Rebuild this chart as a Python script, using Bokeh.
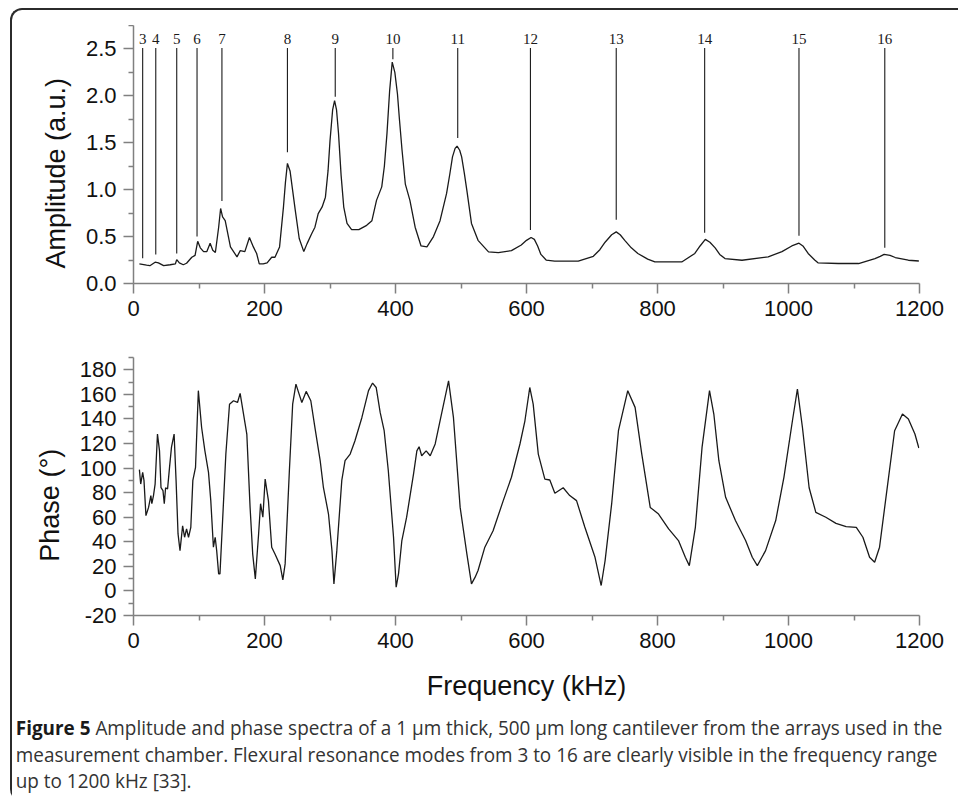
from bokeh.plotting import figure
from bokeh.models import FixedTicker, PrintfTickFormatter, Div, Range1d
from bokeh.layouts import column, row
from bokeh.core.properties import value
from bokeh.embed import file_html
from bokeh.resources import INLINE

# ---------------- data ----------------
amp_freq = [9, 20, 25, 33, 38, 46, 56, 64, 66, 70,
            76, 81, 89, 94, 98, 102, 107, 112, 117, 121,
            125, 130, 133, 136, 140, 148, 158, 163, 170, 177,
            183, 188, 192, 198, 204, 211, 216, 223, 229, 232,
            235, 239, 243, 247, 253, 260, 265, 272, 277, 282,
            288, 293, 297, 300, 304, 307, 310, 313, 317, 321,
            326, 333, 344, 356, 364, 371, 379, 383, 387, 391,
            395, 399, 403, 406, 410, 415, 422, 430, 439, 448,
            458, 468, 478, 483, 487, 491, 494, 498, 501, 505,
            509, 516, 526, 542, 557, 577, 592, 600, 607, 612,
            617, 622, 630, 643, 679, 702, 712, 720, 730, 737,
            743, 750, 760, 770, 785, 796, 837, 857, 865, 873,
            880, 888, 895, 903, 929, 969, 990, 1005, 1016, 1022,
            1030, 1040, 1045, 1076, 1107, 1132, 1140, 1146, 1155, 1163,
            1183, 1199]
amp_val = [0.21, 0.195, 0.19, 0.227, 0.22, 0.19, 0.2, 0.21, 0.255, 0.22,
           0.2, 0.216, 0.28, 0.30, 0.45, 0.38, 0.34, 0.34, 0.43, 0.355,
           0.33, 0.60, 0.80, 0.71, 0.67, 0.39, 0.284, 0.35, 0.34, 0.49,
           0.39, 0.32, 0.21, 0.21, 0.22, 0.28, 0.28, 0.39, 0.82, 1.08,
           1.28, 1.2, 0.99, 0.78, 0.48, 0.34, 0.425, 0.53, 0.60, 0.745,
           0.816, 0.92, 1.2, 1.52, 1.85, 1.95, 1.85, 1.6, 1.15, 0.815,
           0.64, 0.574, 0.574, 0.62, 0.67, 0.886, 1.03, 1.25, 1.6, 2.05,
           2.36, 2.25, 2.02, 1.75, 1.42, 1.06, 0.886, 0.60, 0.40, 0.39,
           0.50, 0.67, 0.96, 1.17, 1.35, 1.44, 1.465, 1.42, 1.35, 1.18,
           0.99, 0.64, 0.46, 0.337, 0.33, 0.35, 0.41, 0.46, 0.49, 0.47,
           0.40, 0.31, 0.25, 0.238, 0.238, 0.29, 0.36, 0.44, 0.52, 0.55,
           0.52, 0.46, 0.38, 0.32, 0.26, 0.23, 0.23, 0.32, 0.40, 0.47,
           0.44, 0.38, 0.31, 0.266, 0.248, 0.284, 0.34, 0.40, 0.43, 0.40,
           0.32, 0.25, 0.22, 0.213, 0.213, 0.266, 0.29, 0.31, 0.30, 0.277,
           0.248, 0.24]

phase_freq = [9, 11, 14, 16, 19, 23, 26.5, 28, 30.5, 33,
              36.6, 39.7, 42, 45, 47, 49, 52, 55, 58, 62,
              65, 68, 71, 75, 78, 81, 84, 87.5, 90.6, 94.7,
              99, 104, 109, 114.5, 118, 122, 124.7, 127, 130, 132,
              136, 141, 146.6, 152.7, 158.8, 162.8, 170.5, 173, 178, 182,
              186, 191, 194, 197.5, 201, 206, 211, 216, 224, 228,
              231.5, 238, 243, 248, 252, 257, 263.6, 270.7, 277, 285,
              290, 297.7, 303, 306, 310.4, 318, 323, 330.8, 338, 348.6,
              358.8, 365, 370.5, 376.6, 382.7, 389, 397, 401, 404.6, 409.7,
              417, 427.5, 432.6, 436, 440, 446.8, 453, 460.6, 468, 481,
              488.5, 498.7, 509, 516, 521.6, 526, 536.4, 549, 564.5, 577,
              590, 597.6, 605, 610.2, 618, 628, 635.6, 643.3, 656, 666,
              676.4, 689, 704.6, 714, 720, 730, 740.4, 754.6, 765.8, 776,
              788.9, 801.6, 817, 832, 842.5, 848.6, 857.8, 868, 879.4, 886,
              893.7, 904, 919, 934.5, 944.7, 952.4, 965, 980.5, 993, 1006,
              1013.6, 1021.3, 1031.5, 1041.7, 1057, 1072.5, 1088, 1103.5, 1113.6, 1123.8,
              1131.5, 1139, 1149.5, 1162, 1174, 1183, 1193, 1199]
phase_val = [98.7, 87, 96.5, 90, 61.3, 68, 77.6, 71, 77.6, 87,
             127.7, 114, 84, 81.6, 71, 84, 83, 100.6, 117, 127.7,
             90, 46.4, 32.8, 53, 43.7, 50.5, 43.7, 51.8, 90, 100.6,
             163, 133, 114, 96.5, 73.5, 35.6, 43.7, 32.8, 13.9, 13.9,
             57, 111.4, 152, 154.8, 153.4, 160.8, 135.8, 127.7, 68, 30,
             9.8, 46.4, 71, 60, 91, 73.5, 35.6, 30, 20.6, 9,
             22, 98, 152, 168.3, 161.6, 153.4, 162.4, 154.8, 133, 106,
             84, 62.6, 32.8, 5.7, 32.8, 90, 106, 111.4, 122, 141,
             163, 169.2, 165.6, 145.3, 130.4, 98, 43.7, 3, 13.9, 41,
             60, 95, 114, 117.4, 110, 114, 110, 119.6, 138.5, 171,
             141, 68, 30, 5.7, 11.2, 16.6, 35.6, 49, 73.5, 92.5,
             119.6, 138.5, 165.6, 152, 111.4, 91, 90.3, 79.5, 84, 77.6,
             73.5, 52, 27.4, 4.4, 24.7, 70.8, 130.4, 163, 149.4, 111.4,
             68, 62.6, 50.5, 41, 27.4, 20.6, 51.8, 116.8, 163, 144,
             106, 76.2, 57.3, 41, 27.4, 20.6, 32.8, 57.3, 92.5, 138.5,
             164.3, 133, 84, 64, 60, 55, 52.4, 51.8, 43.7, 27.4,
             23.4, 35.6, 79, 130.4, 144, 140, 127.7, 116.3]

mode_labels = ["3", "4", "5", "6", "7", "8", "9", "10", "11", "12", "13", "14", "15", "16"]
mode_freq = [14, 34, 66, 97, 135, 235, 308, 396, 495, 606, 737, 872, 1016, 1147]
mode_line_bottom = [0.27, 0.31, 0.32, 0.50, 0.88, 1.40, 1.99, 2.39, 1.55, 0.57, 0.68, 0.54, 0.51, 0.38]
mode_line_top = 2.51
mode_label_y = 2.61

x_ticks = [0, 200, 400, 600, 800, 1000, 1200]
x_minor = [100, 300, 500, 700, 900, 1100]
amp_ticks = [0.0, 0.5, 1.0, 1.5, 2.0, 2.5]
amp_minor = [0.25, 0.75, 1.25, 1.75, 2.25, 2.75]
phase_ticks = [-20, 0, 20, 40, 60, 80, 100, 120, 140, 160, 180]
phase_minor = [-10, 10, 30, 50, 70, 90, 110, 130, 150, 170, 190]

amp_label = "Amplitude (a.u.)"
phase_label = "Phase (°)"
freq_label = "Frequency (kHz)"
caption_bold = "Figure 5"
caption_lines = [
    " Amplitude and phase spectra of a 1 µm thick, 500 µm long cantilever from the arrays used in the",
    "measurement chamber. Flexural resonance modes from 3 to 16 are clearly visible in the frequency range",
    "up to 1200 kHz [33].",
]

AXIS_GRAY = "#808080"
FRAME = "#2b2b2b"
FONT = "Liberation Sans"
PAD = "\u00a0" * 5


def style(p):
    for ax in (p.xaxis[0], p.yaxis[0]):
        ax.axis_line_color = AXIS_GRAY
        ax.axis_line_width = 1.5
        ax.major_tick_line_color = AXIS_GRAY
        ax.minor_tick_line_color = AXIS_GRAY
        ax.major_tick_line_width = 1.5
        ax.minor_tick_line_width = 1.5
        ax.major_tick_out = 10
        ax.major_tick_in = 0
        ax.minor_tick_out = 5
        ax.minor_tick_in = 0
        ax.major_label_text_font = FONT
        ax.major_label_text_font_size = "22px"
        ax.major_label_text_color = "#111111"
        ax.major_label_standoff = 7
        ax.axis_label_text_font = FONT
        ax.axis_label_text_font_style = "normal"
        ax.axis_label_text_font_size = "27px"
        ax.axis_label_text_color = "#111111"
    p.xgrid.visible = False
    p.ygrid.visible = False
    p.outline_line_color = None
    p.background_fill_color = None
    p.border_fill_color = None


# ---------------- amplitude panel ----------------
p1 = figure(width=946, height=310, x_range=Range1d(0, 1200), y_range=Range1d(0, 2.75),
            output_backend="svg", toolbar_location=None,
            min_border_left=121, min_border_right=39, min_border_top=0, min_border_bottom=52)
style(p1)
p1.xaxis.ticker = FixedTicker(ticks=x_ticks, minor_ticks=x_minor)
p1.yaxis.ticker = FixedTicker(ticks=amp_ticks, minor_ticks=amp_minor)
p1.yaxis.formatter = PrintfTickFormatter(format="%.1f")
p1.xaxis.formatter = PrintfTickFormatter(format="%d")
p1.yaxis.axis_label = amp_label + PAD
p1.yaxis.axis_label_standoff = 12
p1.line(amp_freq, amp_val, line_color="#1a1a1a", line_width=1.3)
p1.segment(x0=mode_freq, y0=mode_line_bottom, x1=mode_freq,
           y1=[mode_line_top] * len(mode_freq), line_color="#1a1a1a", line_width=1.1)
p1.text(x=mode_freq, y=[mode_label_y] * len(mode_freq), text=mode_labels,
        text_font=value("Liberation Serif"), text_font_size="15px",
        text_align="center", text_baseline="middle", text_color="#1a1a1a")

# ---------------- phase panel ----------------
p2 = figure(width=946, height=370, x_range=Range1d(0, 1200), y_range=Range1d(-20, 190),
            output_backend="svg", toolbar_location=None,
            min_border_left=121, min_border_right=39, min_border_top=22, min_border_bottom=90)
style(p2)
p2.xaxis.ticker = FixedTicker(ticks=x_ticks, minor_ticks=x_minor)
p2.yaxis.ticker = FixedTicker(ticks=phase_ticks, minor_ticks=phase_minor)
p2.yaxis.formatter = PrintfTickFormatter(format="%d")
p2.xaxis.formatter = PrintfTickFormatter(format="%d")
p2.yaxis.axis_label = phase_label + PAD
p2.yaxis.axis_label_standoff = 12
p2.xaxis.axis_label = freq_label
p2.xaxis.axis_label_standoff = 20
p2.line(phase_freq, phase_val, line_color="#1a1a1a", line_width=1.3)

# ---------------- caption ----------------
cap_html = (
    '<div style="font-family:\'Open Sans\';font-size:20px;line-height:26.5px;color:#333333;'
    'white-space:nowrap;transform:scaleX(0.945);transform-origin:0 0;padding:10px 0 0 4px;">'
    '<b style="color:#1a1a1a">' + caption_bold + '</b>' + caption_lines[0] + '<br>'
    + caption_lines[1] + '<br>' + caption_lines[2] + '</div>'
)
cap = Div(text=cap_html, width=946, height=94, margin=0, styles={"overflow": "hidden"})

# ---------------- figure frame (rounded box, open to the right / bottom) ----------------
top_frame = Div(
    text=('<div style="margin:8px 0 0 10px;width:960px;height:60px;border-top:2px solid ' + FRAME + ';'
          'border-left:2px solid ' + FRAME + ';border-top-left-radius:12px;"></div>'),
    width=958, height=25, margin=0, styles={"overflow": "hidden"})
left_frame = Div(
    text=('<div style="margin:0 0 0 10px;width:20px;height:776px;border-left:2px solid ' + FRAME + ';'
          'border-bottom:2px solid ' + FRAME + ';border-bottom-left-radius:12px;"></div>'),
    width=12, height=774, margin=0, styles={"overflow": "hidden"})

layout = column(top_frame, row(left_frame, column(p1, p2, cap, spacing=0), spacing=0), spacing=0)

open("out.html", "w").write(file_html(layout, INLINE))
